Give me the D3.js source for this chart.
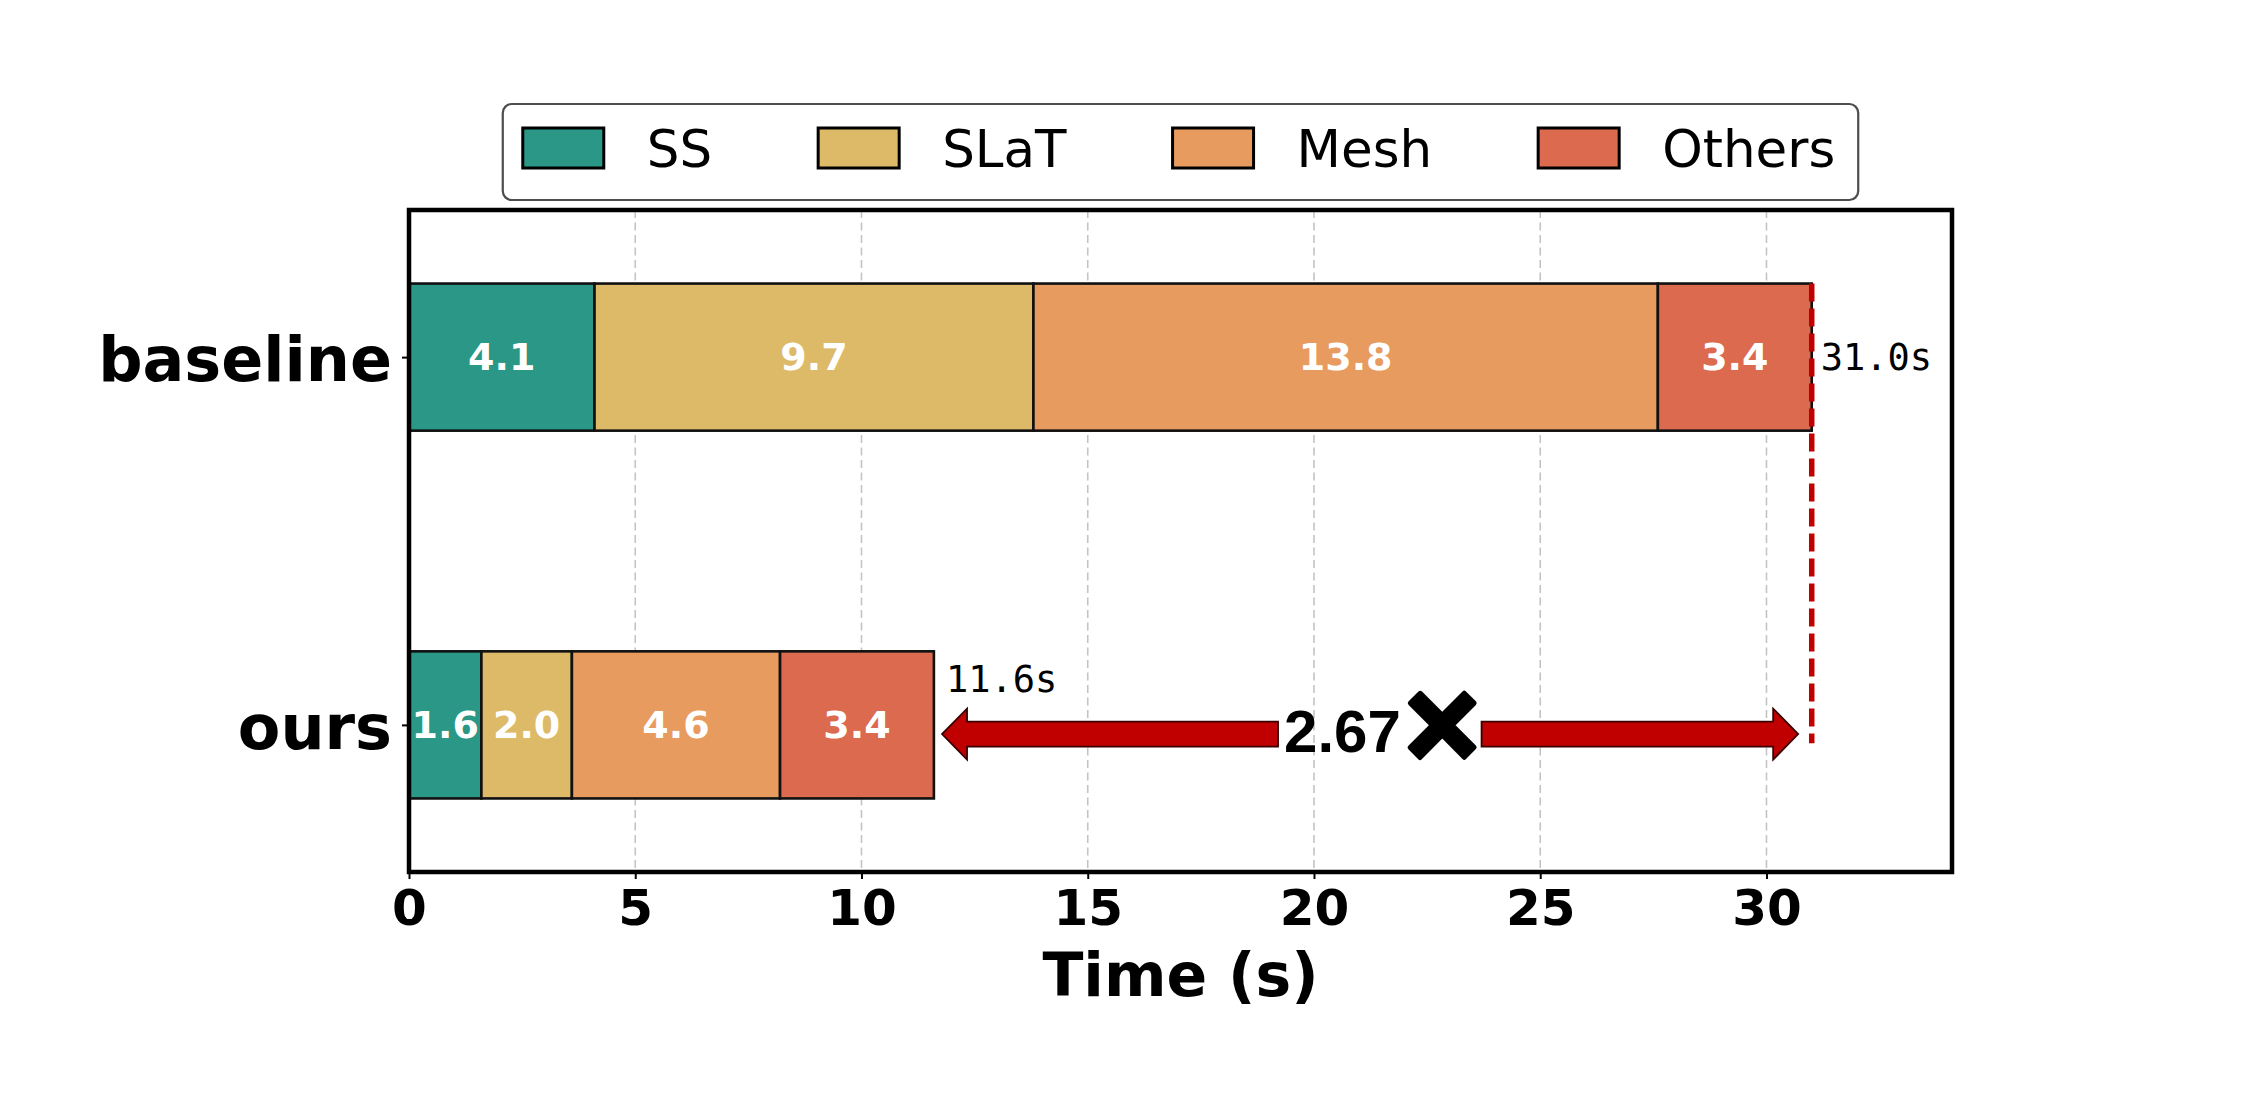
<!DOCTYPE html>
<html>
<head>
<meta charset="utf-8">
<script src="https://cdn.jsdelivr.net/npm/d3@7/dist/d3.min.js"></script>
<style>
  html, body { margin: 0; padding: 0; background: #ffffff; }
  svg { display: block; }
</style>
</head>
<body>
<svg id="chart" width="2266" height="1106"></svg>
<script>
// ---------------- data ----------------
const categories = ["baseline", "ours"];
const stages = ["SS", "SLaT", "Mesh", "Others"];
const baselineTimes = [4.1, 9.7, 13.8, 3.4];
const oursTimes = [1.6, 2.0, 4.6, 3.4];
const stageColors = ["#2A9787", "#DDBA68", "#E89B5E", "#DC6A4F"];
const xTickValues = [0, 5, 10, 15, 20, 25, 30];
const speedupText = "2.67";
const xLabel = "Time (s)";

// ---------------- layout ----------------
const W = 2266, H = 1106;
const plot = { left: 409, right: 1952, top: 210, bottom: 872 };
const svg = d3.select("#chart");
svg.append("rect").attr("width", W).attr("height", H).attr("fill", "#fff");

const seriesByCat = [baselineTimes, oursTimes];
const totals = seriesByCat.map(s => d3.sum(s));
const x = d3.scaleLinear().domain([0, d3.max(totals) * 1.1]).range([plot.left, plot.right]);
const y = d3.scaleLinear().domain([-0.4, 1.4]).range([plot.top, plot.bottom]);
const barHalf = 0.2;

// grid
svg.append("g").selectAll("line").data(xTickValues).join("line")
  .attr("x1", d => x(d)).attr("x2", d => x(d))
  .attr("y1", plot.top).attr("y2", plot.bottom)
  .attr("stroke", "#c4c4c4").attr("stroke-width", 1.6)
  .attr("stroke-dasharray", "8,4.5");

// stacked bars
const segs = [];
seriesByCat.forEach((vals, ci) => {
  let acc = 0;
  vals.forEach((v, si) => {
    segs.push({ ci, si, x0: acc, x1: acc + v, v });
    acc += v;
  });
});
const gBars = svg.append("g");
gBars.selectAll("rect").data(segs).join("rect")
  .attr("x", d => x(d.x0)).attr("width", d => x(d.x1) - x(d.x0))
  .attr("y", d => y(d.ci - barHalf)).attr("height", d => y(d.ci + barHalf) - y(d.ci - barHalf))
  .attr("fill", d => stageColors[d.si])
  .attr("stroke", "#111").attr("stroke-width", 2.6);

gBars.selectAll("text").data(segs).join("text")
  .attr("x", d => x((d.x0 + d.x1) / 2)).attr("y", d => y(d.ci) + 13)
  .attr("text-anchor", "middle")
  .attr("font-family", "DejaVu Sans").attr("font-weight", "bold").attr("font-size", 38)
  .attr("fill", "#fff")
  .text(d => d.v.toFixed(1));

// total labels
const totalOffsets = [{ dx: 9, dy: 13 }, { dx: 12, dy: -33 }];
svg.append("g").selectAll("text").data(totals).join("text")
  .attr("x", (d, i) => x(d) + totalOffsets[i].dx)
  .attr("y", (d, i) => y(i) + totalOffsets[i].dy)
  .attr("font-family", "DejaVu Sans Mono").attr("font-size", 37)
  .attr("fill", "#000")
  .text(d => d.toFixed(1) + "s");

// red dashed reference line at baseline total
svg.append("line")
  .attr("x1", x(totals[0])).attr("x2", x(totals[0]))
  .attr("y1", y(-barHalf)).attr("y2", y(1.05))
  .attr("stroke", "#C00000").attr("stroke-width", 5.5)
  .attr("stroke-dasharray", "18,7");

// speed-up annotation
const arrowY = 1.025;
const ay = y(arrowY);
const midX = x((totals[0] + totals[1]) / 2);
const label = svg.append("text")
  .attr("x", midX + 9).attr("y", ay + 18)
  .attr("text-anchor", "middle")
  .attr("fill", "#000");
label.append("tspan").attr("font-family", "Liberation Sans").attr("font-weight", "bold")
  .attr("font-size", 60).text(speedupText);
label.append("tspan").attr("font-family", "Liberation Sans").attr("font-weight", "bold")
  .attr("font-size", 128).attr("dx", 4).attr("dy", 16)
  .attr("stroke", "#000").attr("stroke-width", 5).attr("stroke-linejoin", "round")
  .text("×");
const bb = label.node().getBBox();

function arrowPath(x0, x1, yc) {
  const d = Math.sign(x1 - x0), h = 12.5, Hh = 25.5, L = 25;
  const xb = x1 - d * L;
  return `M${x0},${yc - h}L${xb},${yc - h}L${xb},${yc - Hh}L${x1},${yc}L${xb},${yc + Hh}L${xb},${yc + h}L${x0},${yc + h}Z`;
}
const arrows = [
  [bb.x - 6, x(totals[1] + 0.18)],
  [bb.x + bb.width + 2, x(totals[0] - 0.3)]
];
svg.append("g").selectAll("path").data(arrows).join("path")
  .attr("d", d => arrowPath(d[0], d[1], ay))
  .attr("fill", "#C00000").attr("stroke", "#3a0000").attr("stroke-width", 1.8);

// axes
const xAxis = svg.append("g").attr("transform", `translate(0,${plot.bottom})`)
  .call(d3.axisBottom(x).tickValues(xTickValues).tickSize(7).tickPadding(10).tickFormat(d3.format("d")));
xAxis.select(".domain").remove();
xAxis.selectAll("line").attr("stroke", "#000").attr("stroke-width", 2);
xAxis.selectAll("text").attr("font-family", "DejaVu Sans").attr("font-weight", "bold")
  .attr("font-size", 50).attr("fill", "#000");

const yAxis = svg.append("g").attr("transform", `translate(${plot.left},0)`)
  .call(d3.axisLeft(y).tickValues([0, 1]).tickSize(7).tickPadding(10).tickFormat(i => categories[i]));
yAxis.select(".domain").remove();
yAxis.selectAll("line").attr("stroke", "#000").attr("stroke-width", 2);
yAxis.selectAll("text").attr("font-family", "DejaVu Sans").attr("font-weight", "bold")
  .attr("font-size", 62).attr("fill", "#000").attr("dy", "0.38em");

svg.append("text")
  .attr("x", (plot.left + plot.right) / 2).attr("y", 996)
  .attr("text-anchor", "middle")
  .attr("font-family", "DejaVu Sans").attr("font-weight", "bold").attr("font-size", 60)
  .attr("fill", "#000").text(xLabel);

// spines
svg.append("rect")
  .attr("x", plot.left).attr("y", plot.top)
  .attr("width", plot.right - plot.left).attr("height", plot.bottom - plot.top)
  .attr("fill", "none").attr("stroke", "#000").attr("stroke-width", 4.5);

// legend
const leg = svg.append("g");
const patchW = 81, patchH = 40, textPad = 43, colSpace = 106, padL = 20, padR = 23;
const legTop = 104, legBottom = 200;
const patchY = 128;
const items = leg.selectAll("g").data(stages).join("g");
items.append("rect").attr("width", patchW).attr("height", patchH).attr("y", patchY)
  .attr("fill", (d, i) => stageColors[i]).attr("stroke", "#000").attr("stroke-width", 3);
const legTexts = items.append("text").attr("x", patchW + textPad).attr("y", patchY + 39)
  .attr("font-family", "DejaVu Sans").attr("font-size", 51.5).attr("fill", "#000")
  .text(d => d);
let cursor = 0;
const offsets = [];
legTexts.each(function () {
  offsets.push(cursor);
  cursor += patchW + textPad + this.getComputedTextLength() + colSpace;
});
const contentW = cursor - colSpace;
const boxW = padL + contentW + padR;
const boxX = (plot.left + plot.right) / 2 - boxW / 2;
items.attr("transform", (d, i) => `translate(${boxX + padL + offsets[i]},0)`);
leg.insert("rect", ":first-child")
  .attr("x", boxX).attr("y", legTop).attr("width", boxW).attr("height", legBottom - legTop)
  .attr("rx", 9).attr("fill", "#fff").attr("stroke", "#4d4d4d").attr("stroke-width", 2.2);
</script>
</body>
</html>
